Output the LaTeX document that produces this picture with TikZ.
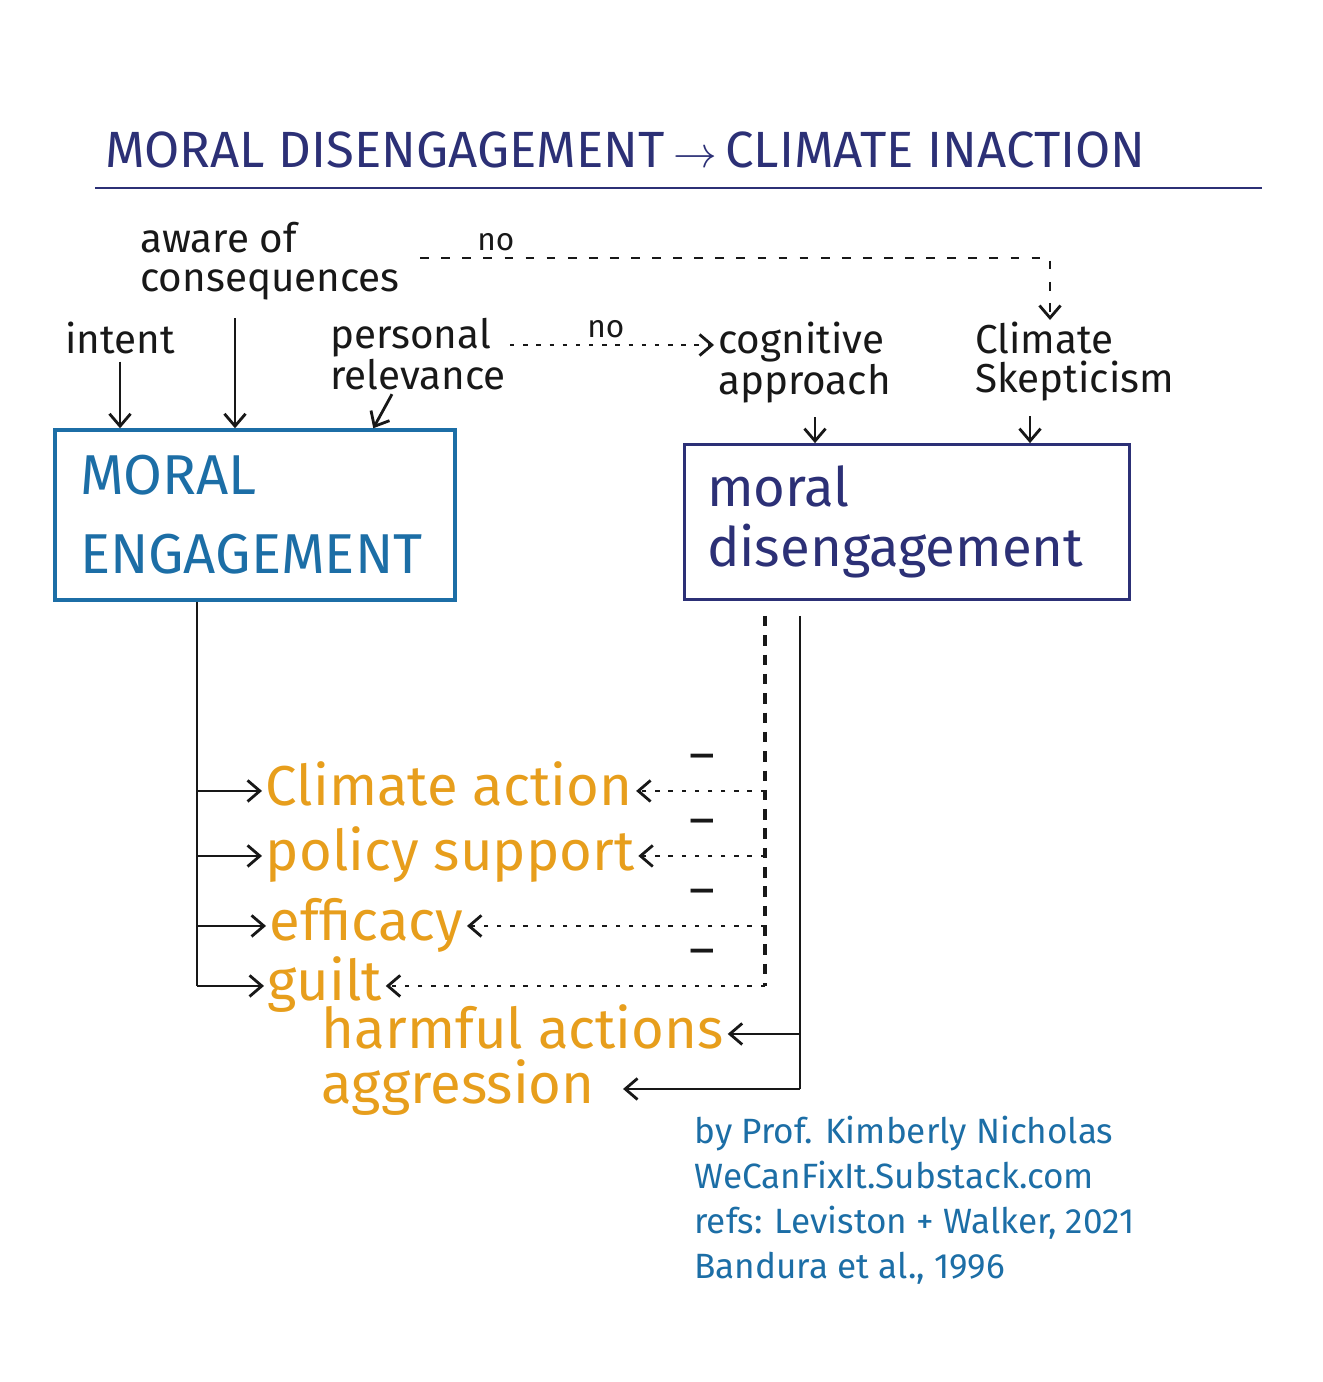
\documentclass[tikz,border=0pt]{standalone}
\usepackage{fontspec}
\setmainfont{Fira Sans}
\usepackage{xcolor}
\usepackage{tikz}
\usetikzlibrary{arrows.meta,positioning,calc}
\definecolor{inknavy}{RGB}{44,48,118}
\definecolor{inkblue}{RGB}{28,110,166}
\definecolor{inkorange}{RGB}{231,158,28}
\definecolor{inkblack}{RGB}{24,24,24}
\tikzset{
  heading/.style={anchor=base west, inner sep=0pt, text=inknavy, font=\fontsize{29}{31}\selectfont},
  cause/.style={anchor=north west, inner sep=0pt, align=left, text=inkblack, font=\fontsize{23}{22}\selectfont},
  engbox/.style={draw=inkblue, line width=2pt, align=left, text=inkblue, text width=7cm, minimum width=8cm, minimum height=3.4cm, font=\fontsize{32}{45}\selectfont},
  disbox/.style={draw=inknavy, line width=1.6pt, align=left, text=inknavy, text width=8cm, minimum width=8.9cm, minimum height=3.1cm, font=\fontsize{31}{34}\selectfont},
  outcome/.style={anchor=base west, inner sep=2pt, text=inkorange, text height=23pt, text depth=7pt, font=\fontsize{32}{32}\selectfont},
  arrow/.style={-{Straight Barb[length=7pt,width=12pt]}, line width=1.6pt, draw=inkblack},
  trunk/.style={line width=1.6pt, draw=inkblack},
  dashtrunk/.style={line width=1.8pt, draw=inkblack, dash pattern=on 6pt off 5pt},
  dotarrow/.style={arrow, dash pattern=on 2.5pt off 5pt},
  noarrow/.style={arrow, dash pattern=on 5pt off 7pt},
  nolabel/.style={above=2pt, font=\fontsize{18}{18}\selectfont, text=inkblack, inner sep=1pt},
  minus/.style={font=\fontsize{28}{28}\selectfont, text=inkblack, xshift=-1.25cm, yshift=0.56cm},
  credit/.style={anchor=north west, align=left, inner sep=0pt, text=inkblue, font=\fontsize{20}{25.5}\selectfont}
}
\begin{document}
\begin{tikzpicture}[x=0.02cm, y=-0.02cm]
  \useasboundingbox (0,0) rectangle (1322,1382);
  \node[heading] (title) at (105,168) {MORAL DISENGAGEMENT\,$\rightarrow$\,CLIMATE INACTION};
  \draw[line width=1.6pt, inknavy] ($(title.base west)+(-10,20)$) -- ++(1167,0);

  \node[cause] (aware) at (140,222) {aware of\\consequences};
  \node[cause] (intent) at (65,322) {intent};
  \node[cause] (relevance) at (330,318) {personal\\relevance};
  \node[cause] (cognitive) at (718,322) {cognitive\\approach};
  \node[cause] (skeptic) at (975,322) {Climate\\Skepticism};

  \node[engbox] (engage) at (255,515) {MORAL\\ENGAGEMENT};
  \node[disbox] (disengage) at (907,522) {moral\\disengagement};

  \node[outcome] (action) at (262,805) {Climate action};
  \node[outcome] (policy) at (262,870) {policy support};
  \node[outcome] (efficacy) at (266,940) {efficacy};
  \node[outcome] (guilt) at (264,1000) {guilt};
  \node[outcome] (harmful) at (318,1048) {harmful actions};
  \node[outcome] (aggression) at (318,1103) {aggression};

  \node[credit] (credit) at (694,1116) {by Prof. Kimberly Nicholas\\WeCanFixIt.Substack.com\\refs: Leviston + Walker, 2021\\Bandura et al., 1996};

  \coordinate (ltop) at ($(engage.south)+(-58,0)$);
  \coordinate (dtop) at ($(disengage.south)+(-142,15)$);
  \coordinate (stop) at ($(disengage.south)+(-107,15)$);

  \draw[arrow, shorten <=4pt] (intent.south) -- (intent.south |- engage.north);
  \draw[arrow] ($(aware.south west)+(95,18)$) coordinate (a1) -- (a1 |- engage.north);
  \draw[arrow] ($(relevance.south west)+(62,4)$) -- ($(engage.north west)+(320,0)$);
  \draw[arrow] ($(cognitive.south west)+(97,14)$) coordinate (c1) -- (c1 |- disengage.north);
  \draw[arrow] ($(skeptic.south west)+(55,15)$) coordinate (s1) -- (s1 |- disengage.north);

  \draw[noarrow] ($(aware.north east)+(20,36)$) -| node[nolabel, pos=0.06]{no} ($(skeptic.north west)+(75,-2)$);
  \draw[dotarrow] ($(relevance.north west)+(180,27)$) -- node[nolabel, pos=0.47]{no} ($(cognitive.north west)+(-4,23)$);

  \draw[trunk] (ltop) -- (ltop |- guilt.west);
  \draw[arrow] (ltop |- action.west) -- (action.west);
  \draw[arrow] (ltop |- policy.west) -- (policy.west);
  \draw[arrow] (ltop |- efficacy.west) -- (efficacy.west);
  \draw[arrow] (ltop |- guilt.west) -- (guilt.west);

  \draw[dashtrunk] (dtop) -- (dtop |- guilt.east);
  \draw[dotarrow] (dtop |- action.east) node[minus]{\textendash} -- (action.east);
  \draw[dotarrow] (dtop |- policy.east) node[minus]{\textendash} -- (policy.east);
  \draw[dotarrow] (dtop |- efficacy.east) node[minus]{\textendash} -- (efficacy.east);
  \draw[dotarrow] (dtop |- guilt.east) node[minus]{\textendash} -- (guilt.east);

  \draw[trunk] (stop) -- (stop |- aggression.east);
  \draw[arrow] (stop |- harmful.east) -- (harmful.east);
  \draw[arrow, shorten >=14pt] (stop |- aggression.east) -- (aggression.east);
\end{tikzpicture}
\end{document}
